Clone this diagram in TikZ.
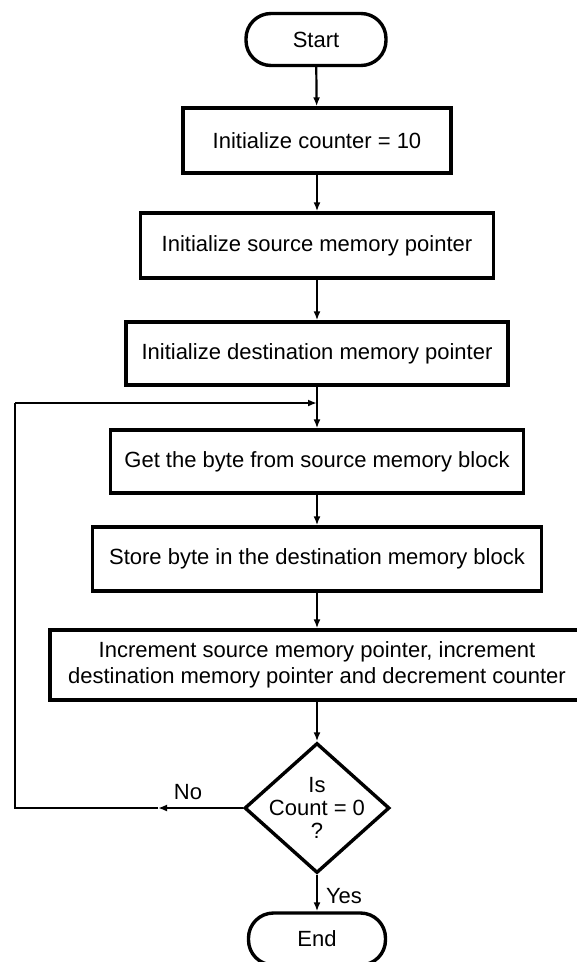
\documentclass[tikz,border=0pt]{standalone}
\usepackage{fontspec}
\setmainfont{Liberation Sans}
\usetikzlibrary{shapes.geometric,arrows.meta}
\begin{document}
\begin{tikzpicture}[x=1pt,y=-1pt,
  font=\fontsize{22}{26}\selectfont,
  procbox/.style={draw,line width=3.4pt,inner sep=0pt,align=center},
  termbox/.style={draw,line width=3.4pt,inner sep=0pt,rounded corners=25pt,minimum width=140pt,minimum height=52pt},
  decbox/.style={draw,line width=3.4pt,shape=diamond,inner sep=0pt,minimum width=145pt,minimum height=130pt},
  conn/.style={line width=2.2pt},
  arr/.style={conn,-{Latex[length=9pt,width=7pt]}},
  lbl/.style={inner sep=0pt}]
\useasboundingbox (0,0) rectangle (577,962);
\node[termbox] (start) at (316,39.5) {Start};
\node[procbox,minimum width=268pt,minimum height=65pt] (b1) at (317,140.5) {Initialize counter = 10};
\node[procbox,minimum width=353pt,minimum height=65pt] (b2) at (317,245.5) {Initialize source memory pointer};
\node[procbox,minimum width=382pt,minimum height=63pt] (b3) at (317,353.5) {Initialize destination memory pointer};
\coordinate (join) at (317,403);
\node[procbox,minimum width=413pt,minimum height=63pt] (b4) at (317,461.5) {Get the byte from source memory block};
\node[procbox,minimum width=449pt,minimum height=64pt] (b5) at (317,559) {Store byte in the destination memory block};
\node[procbox,minimum width=534pt,minimum height=70pt] (b6) at (317,665) {Increment source memory pointer, increment\\destination memory pointer and decrement counter};
\node[decbox] (dia) at (317,808) {};
\node[lbl,align=center,font=\fontsize{22}{23}\selectfont] (diatext) at (317,808) {Is\\Count = 0\\?};
\node[termbox,minimum width=137pt,minimum height=52pt] (end) at (317,939) {End};
\coordinate (nomid) at (158,808);
\coordinate (lcorner) at (15,808);
\coordinate (tcorner) at (15,403);
\node[lbl] (nolbl) at (188,792) {No};
\node[lbl] (yeslbl) at (344,896) {Yes};
\draw[arr] (start) -- (b1);
\draw[arr] (b1) -- (b2);
\draw[arr] (b2) -- (b3);
\draw[conn] (b3) -- (join);
\draw[arr] (join) -- (b4);
\draw[arr] (b4) -- (b5);
\draw[arr] (b5) -- (b6);
\draw[arr] (b6) -- (dia);
\draw[arr] (dia) -- (end);
\draw[arr] (dia.west) -- (nomid);
\draw[conn] (nomid) -- (lcorner) -- (tcorner);
\draw[arr] (tcorner) -- (join);
\end{tikzpicture}
\end{document}
